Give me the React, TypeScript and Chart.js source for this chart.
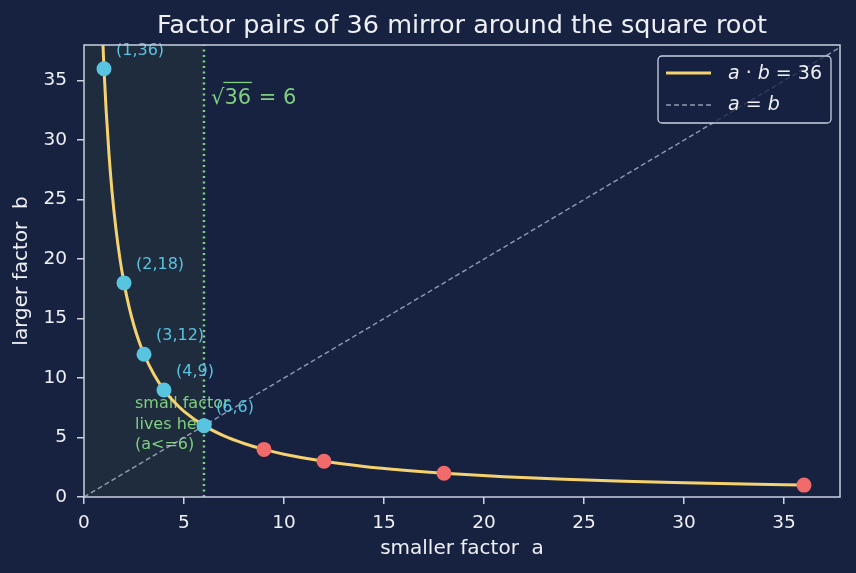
import { useEffect, useRef } from "react";
import { Chart, registerables } from "chart.js";

Chart.register(...registerables);

// ---------- data ----------
const TITLE = "Factor pairs of 36 mirror around the square root";
const X_LABEL = "smaller factor  a";
const Y_LABEL = "larger factor  b";
const X_MAX = 37.8;
const Y_MAX = 38;
const SQRT_VALUE = 6;

const xTicks = [0, 5, 10, 15, 20, 25, 30, 35];
const yTicks = [0, 5, 10, 15, 20, 25, 30, 35];

const pairA = [1, 2, 3, 4, 6, 9, 12, 18, 36];
const pairB = [36, 18, 12, 9, 6, 4, 3, 2, 1];
const pairLabels = ["(1,36)", "(2,18)", "(3,12)", "(4,9)", "(6,6)", "", "", "", ""];

const curveA = [0.9, 1, 1.1, 1.25, 1.4, 1.6, 1.8, 2, 2.25, 2.5, 2.75, 3, 3.5, 4, 4.5, 5, 6, 7, 8, 9, 10, 12, 14, 16, 18, 21, 24, 27, 30, 33, 36];
const curveB = [40, 36, 32.7, 28.8, 25.7, 22.5, 20, 18, 16, 14.4, 13.1, 12, 10.3, 9, 8, 7.2, 6, 5.14, 4.5, 4, 3.6, 3, 2.57, 2.25, 2, 1.71, 1.5, 1.33, 1.2, 1.09, 1];

const diagA = [0, 38];
const diagB = [0, 38];

const rootLineA = [6, 6];
const rootLineB = [0, 38];

const noteLines = ["small factor", "lives here", "(a<=6)"];
const NOTE_A = 2.55;
const NOTE_B = 7.8;
const ROOT_A = 6.35;
const ROOT_B = 33.0;

// ---------- styles ----------
const FONT = "'DejaVu Sans', 'Liberation Sans', sans-serif";
const BG = "#172241";
const SHADE = "#1f2c3d";
const TEXT = "#eef0f5";
const SPINE = "#c9d1e0";
const YELLOW = "#f5d26e";
const CYAN = "#58c4e0";
const RED = "#f26b6b";
const GREEN = "#7fcf7f";
const DIAG = "rgba(190,196,218,0.75)";

const decor = {
  id: "decor",
  beforeDraw(chart: any) {
    const { ctx, width, height } = chart;
    ctx.save();
    ctx.fillStyle = BG;
    ctx.fillRect(0, 0, width, height);
    ctx.restore();
  },
  beforeDatasetsDraw(chart: any) {
    const { ctx, chartArea: ca, scales } = chart;
    const x = scales.x;
    const y = scales.y;
    ctx.save();
    const x0 = x.getPixelForValue(0);
    const x1 = x.getPixelForValue(SQRT_VALUE);
    ctx.fillStyle = SHADE;
    ctx.fillRect(x0, ca.top, x1 - x0, ca.bottom - ca.top);
    ctx.fillStyle = GREEN;
    ctx.font = `16px ${FONT}`;
    ctx.textBaseline = "middle";
    ctx.textAlign = "left";
    const nx = x.getPixelForValue(NOTE_A);
    const ny = y.getPixelForValue(NOTE_B);
    noteLines.forEach((l, i) => ctx.fillText(l, nx, ny + i * 20.5));
    ctx.restore();
  },
  afterDatasetsDraw(chart: any) {
    const { ctx, chartArea: ca, scales } = chart;
    const x = scales.x;
    const y = scales.y;
    ctx.save();
    // pair labels
    ctx.fillStyle = CYAN;
    ctx.font = `16px ${FONT}`;
    ctx.textBaseline = "middle";
    ctx.textAlign = "left";
    pairA.forEach((a, i) => {
      const t = pairLabels[i];
      if (!t) return;
      ctx.fillText(t, x.getPixelForValue(a) + 12, y.getPixelForValue(pairB[i]) - 18);
    });
    // sqrt annotation
    ctx.fillStyle = GREEN;
    ctx.strokeStyle = GREEN;
    ctx.font = `21px ${FONT}`;
    ctx.textBaseline = "alphabetic";
    const rx = x.getPixelForValue(ROOT_A);
    const ry = y.getPixelForValue(ROOT_B);
    ctx.fillText("√", rx, ry);
    const wr = ctx.measureText("√").width;
    ctx.fillText("36", rx + wr, ry);
    const w36 = ctx.measureText("36").width;
    ctx.lineWidth = 1.3;
    ctx.beginPath();
    ctx.moveTo(rx + wr - 1, ry - 22);
    ctx.lineTo(rx + wr + w36 + 1, ry - 22);
    ctx.stroke();
    ctx.fillText(" = 6", rx + wr + w36 + 1, ry);
    // spines
    ctx.strokeStyle = SPINE;
    ctx.lineWidth = 1.5;
    ctx.strokeRect(ca.left, ca.top, ca.right - ca.left, ca.bottom - ca.top);
    ctx.restore();
  },
  afterDraw(chart: any) {
    const { ctx, chartArea: ca } = chart;
    ctx.save();
    // title
    ctx.fillStyle = TEXT;
    ctx.font = `25.5px ${FONT}`;
    ctx.textAlign = "center";
    ctx.textBaseline = "alphabetic";
    ctx.fillText(TITLE, (ca.left + ca.right) / 2, 33);
    // legend
    const lx = 658, ly = 56, lw = 173, lh = 67;
    ctx.beginPath();
    ctx.roundRect(lx, ly, lw, lh, 4);
    ctx.fillStyle = "rgba(23,34,65,0.8)";
    ctx.fill();
    ctx.strokeStyle = SPINE;
    ctx.lineWidth = 1.3;
    ctx.stroke();
    // row 1
    ctx.strokeStyle = YELLOW;
    ctx.lineWidth = 3;
    ctx.beginPath();
    ctx.moveTo(666, 73);
    ctx.lineTo(711, 73);
    ctx.stroke();
    // row 2
    ctx.strokeStyle = DIAG;
    ctx.lineWidth = 1.5;
    ctx.setLineDash([5, 3]);
    ctx.beginPath();
    ctx.moveTo(666, 105);
    ctx.lineTo(711, 105);
    ctx.stroke();
    ctx.setLineDash([]);
    const drawMath = (parts: [string, boolean][], sx: number, sy: number) => {
      let cx = sx;
      ctx.fillStyle = TEXT;
      ctx.textAlign = "left";
      ctx.textBaseline = "middle";
      parts.forEach(([t, it]) => {
        ctx.font = `${it ? "italic " : ""}19px ${FONT}`;
        ctx.fillText(t, cx, sy);
        cx += ctx.measureText(t).width;
      });
    };
    drawMath([["a", true], [" · ", false], ["b", true], [" = 36", false]], 728, 74);
    drawMath([["a", true], [" = ", false], ["b", true]], 728, 105);
    ctx.restore();
  },
};

export default function App() {
  const ref = useRef<HTMLCanvasElement | null>(null);

  useEffect(() => {
    if (!ref.current) return;
    const pts = pairA.map((a, i) => ({ x: a, y: pairB[i] }));
    const chart = new Chart(ref.current, {
      type: "scatter",
      data: {
        datasets: [
          {
            label: "pairs",
            data: pts,
            showLine: false,
            pointRadius: 7.5,
            pointHoverRadius: 7.5,
            pointBorderWidth: 0,
            pointBackgroundColor: pairA.map((a) => (a <= SQRT_VALUE ? CYAN : RED)),
          },
          {
            label: "a·b=36",
            data: curveA.map((a, i) => ({ x: a, y: curveB[i] })),
            showLine: true,
            pointRadius: 0,
            borderColor: YELLOW,
            borderWidth: 3,
            cubicInterpolationMode: "monotone",
          },
          {
            label: "sqrt",
            data: rootLineA.map((a, i) => ({ x: a, y: rootLineB[i] })),
            showLine: true,
            pointRadius: 0,
            borderColor: GREEN,
            borderWidth: 2.5,
            borderDash: [2, 3.5],
          },
          {
            label: "a=b",
            data: diagA.map((a, i) => ({ x: a, y: diagB[i] })),
            showLine: true,
            pointRadius: 0,
            borderColor: DIAG,
            borderWidth: 1.4,
            borderDash: [5, 3],
          },
        ],
      } as any,
      options: {
        responsive: false,
        animation: false,
        devicePixelRatio: 1,
        events: [],
        layout: { padding: { top: 45, right: 16, left: 0, bottom: 0 } },
        plugins: {
          legend: { display: false },
          tooltip: { enabled: false },
          title: { display: false },
        },
        scales: {
          x: {
            type: "linear",
            min: 0,
            max: X_MAX,
            afterBuildTicks: (s: any) => {
              s.ticks = xTicks.map((v) => ({ value: v }));
            },
            afterFit: (s: any) => {
              s.height = 76;
            },
            ticks: { color: TEXT, font: { family: FONT, size: 18.5 }, padding: 8, maxRotation: 0, autoSkip: false },
            grid: { display: true, drawOnChartArea: false, drawTicks: true, tickLength: 7, color: SPINE, lineWidth: 1.5 },
            border: { display: false },
            title: {
              display: true,
              text: X_LABEL,
              color: TEXT,
              font: { family: FONT, size: 20, lineHeight: 1.2 },
              padding: { top: 0, bottom: 12 },
            },
          },
          y: {
            type: "linear",
            min: 0,
            max: Y_MAX,
            afterBuildTicks: (s: any) => {
              s.ticks = yTicks.map((v) => ({ value: v }));
            },
            afterFit: (s: any) => {
              s.width = 84;
            },
            ticks: { color: TEXT, font: { family: FONT, size: 18.5 }, padding: 10, autoSkip: false },
            grid: { display: true, drawOnChartArea: false, drawTicks: true, tickLength: 7, color: SPINE, lineWidth: 1.5 },
            border: { display: false },
            title: {
              display: true,
              text: Y_LABEL,
              color: TEXT,
              font: { family: FONT, size: 20, lineHeight: 1.2 },
              padding: { top: 10, bottom: 0 },
            },
          },
        },
      } as any,
      plugins: [decor],
    });
    return () => chart.destroy();
  }, []);

  return (
    <div style={{ position: "fixed", left: 0, top: 0, width: 856, height: 573, background: BG }}>
      <canvas ref={ref} width={856} height={573} style={{ display: "block", width: 856, height: 573 }} />
    </div>
  );
}
